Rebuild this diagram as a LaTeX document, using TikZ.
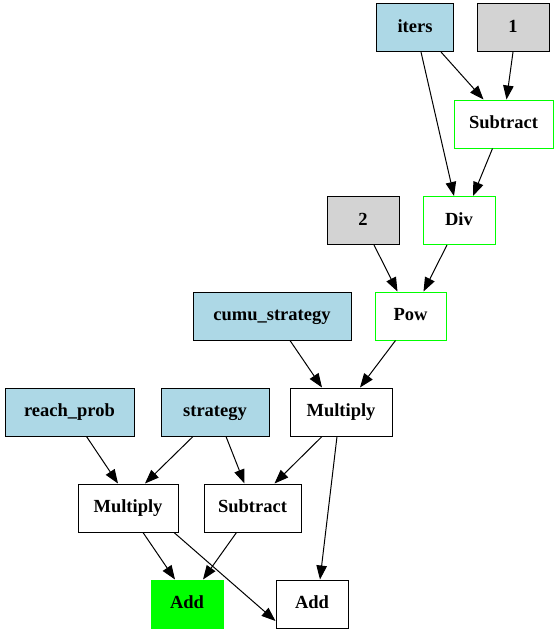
\documentclass[tikz,border=0pt]{standalone}
\usepackage{fontspec}
\setmainfont{Liberation Serif}
\usetikzlibrary{arrows.meta}
\definecolor{lblue}{HTML}{ADD8E6}
\definecolor{lgray}{HTML}{D3D3D3}
\definecolor{gvgreen}{HTML}{00FF00}
\begin{document}
\begin{tikzpicture}[x=1pt,y=-1pt,
  op/.style={draw=black, line width=1pt, rectangle, minimum height=48pt, inner xsep=12pt,
    text height=13pt, text depth=4pt,
    font=\fontsize{18.5}{22}\selectfont\bfseries},
  inp/.style={op, fill=lblue},
  cst/.style={op, fill=lgray},
  gop/.style={op, draw=gvgreen},
  gfill/.style={op, draw=gvgreen, fill=gvgreen},
  edge/.style={draw=black, line width=1pt, -{Triangle[length=14pt,width=10.5pt]}}]
\useasboundingbox (0,0) rectangle (559,635);
% nodes
\node[inp, minimum width=77pt] (iters) at (415,27.5) {iters};
\node[cst, minimum width=72pt] (one) at (513,27.5) {1};
\node[gop, minimum width=99pt] (sub1) at (503.5,124) {Subtract};
\node[gop, minimum width=72pt] (div) at (459,220.5) {Div};
\node[cst, minimum width=72pt] (two) at (363,220.5) {2};
\node[gop, minimum width=71pt] (pow) at (410.5,316) {Pow};
\node[inp, minimum width=158pt] (cumu) at (272,316) {cumu\_strategy};
\node[inp, minimum width=129pt] (reach) at (69.5,412) {reach\_prob};
\node[inp, minimum width=108pt] (strat) at (215,412) {strategy};
\node[op, minimum width=102pt] (mulm) at (341,412) {Multiply};
\node[op, minimum width=100pt] (mull) at (128,508) {Multiply};
\node[op, minimum width=97pt] (sub2) at (252.5,508) {Subtract};
\node[gfill, minimum width=72pt] (addg) at (187,604) {Add};
\node[op, minimum width=72pt] (add) at (312,604) {Add};
% connectors
\draw[edge] ([xshift=26pt]iters.south) -- ([xshift=-20pt]sub1.north);
\draw[edge] ([xshift=6pt]iters.south) -- ([xshift=-5pt]div.north);
\draw[edge] (one.south) -- ([xshift=3pt]sub1.north);
\draw[edge] ([xshift=-11pt]sub1.south) -- ([xshift=14pt]div.north);
\draw[edge] ([xshift=11pt]two.south) -- ([xshift=-13pt]pow.north);
\draw[edge] ([xshift=-12pt]div.south) -- ([xshift=13pt]pow.north);
\draw[edge] ([xshift=18pt]cumu.south) -- ([xshift=-19pt]mulm.north);
\draw[edge] ([xshift=-15pt]pow.south) -- ([xshift=19pt]mulm.north);
\draw[edge] ([xshift=17pt]reach.south) -- ([xshift=-10pt]mull.north);
\draw[edge] ([xshift=-22pt]strat.south) -- ([xshift=17pt]mull.north);
\draw[edge] ([xshift=11pt]strat.south) -- ([xshift=-8pt]sub2.north);
\draw[edge] ([xshift=-19pt]mulm.south) -- ([xshift=22pt]sub2.north);
\draw[edge] ([xshift=-4pt]mulm.south) -- ([xshift=8pt]add.north);
\draw[edge] ([xshift=15pt]mull.south) -- ([xshift=-12pt]addg.north);
\draw[edge] ([xshift=46pt]mull.south) -- ([yshift=-17pt]add.west);
\draw[edge] ([xshift=-16pt]sub2.south) -- ([xshift=16pt]addg.north);
\end{tikzpicture}
\end{document}
